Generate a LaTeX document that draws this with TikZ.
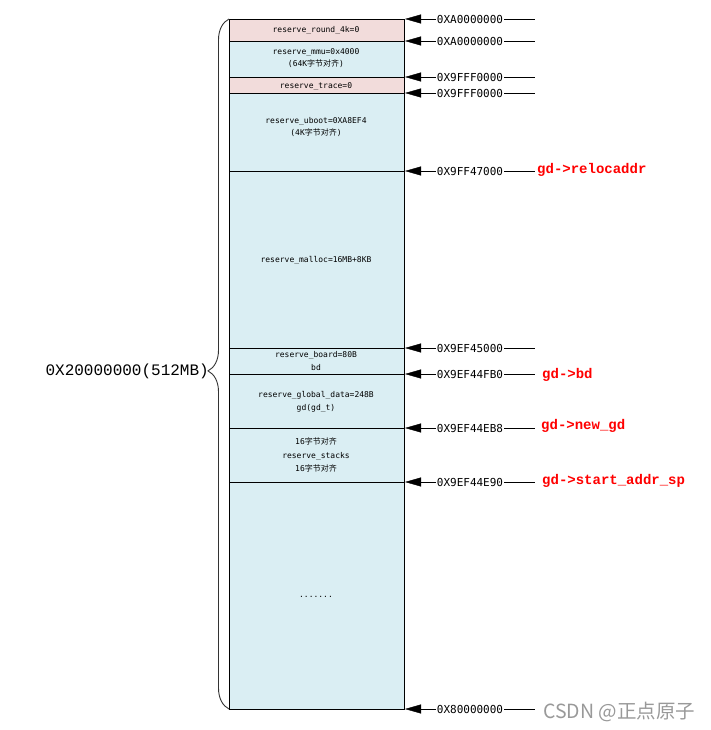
\documentclass[tikz,border=0pt]{standalone}
\usepackage{fontspec}
\setmainfont{DejaVu Sans}
\newfontfamily\cjk{Noto Sans CJK SC}
\newfontfamily\boxfont{DejaVu Sans Mono}
\newfontfamily\codefont{Liberation Mono}
\usetikzlibrary{arrows.meta,decorations.pathreplacing}
\definecolor{rowpink}{HTML}{F2DCDB}
\definecolor{rowblue}{HTML}{DAEEF3}
\tikzset{
  memtext/.style={align=center, font=\boxfont\fontsize{8}{12.5}\selectfont},
  addr/.style={inner xsep=1pt, font=\boxfont\fontsize{11}{13}\selectfont},
  ptr/.style={anchor=west, inner sep=0pt, text=red, font=\codefont\bfseries\fontsize{14}{16}\selectfont}
}
\begin{document}
\begin{tikzpicture}[x=1pt, y=-1pt, >={Triangle[length=16pt,width=9pt]}]
        \useasboundingbox (0,0) rectangle (710,730);

        % Rows of the memory map (top/bottom/fill)
        \foreach \t/\b/\c in {19/41/rowpink, 41/77/rowblue, 77/93/rowpink, 93/171/rowblue,
            171/348/rowblue, 348/374/rowblue, 374/428/rowblue, 428/482/rowblue, 482/709/rowblue}
          \draw[fill=\c, line width=0.8pt] (229,\t) rectangle (404,\b);

        % Texts inside the rows
        \node[memtext] (round) at (316,30) {reserve\_round\_4k=0};
        \node[memtext] (mmu) at (316,58) {reserve\_mmu=0x4000\\(64K{\cjk 字节对齐})};
        \node[memtext] (trace) at (316,86) {reserve\_trace=0};
        \node[memtext] (uboot) at (316,127) {reserve\_uboot=0XA8EF4\\(4K{\cjk 字节对齐})};
        \node[memtext] (malloc) at (316,260) {reserve\_malloc=16MB+8KB};
        \node[memtext] (board) at (316,361) {reserve\_board=80B\\bd};
        \node[memtext] (global) at (316,402) {reserve\_global\_data=248B\\gd(gd\_t)};
        \node[memtext, font=\boxfont\fontsize{8}{13.5}\selectfont] (stacks) at (316,455)
          {16{\cjk 字节对齐}\\reserve\_stacks\\16{\cjk 字节对齐}};
        \node[memtext] (dots) at (316,597) {.......};

        % Addresses at the row boundaries, arrows point at the box
        \foreach \y/\a [count=\i] in {19/0XA0000000, 41/0XA0000000, 77/0X9FFF0000, 93/0X9FFF0000,
            171/0X9FF47000, 348/0X9EF45000, 374/0X9EF44FB0, 428/0X9EF44EB8, 482/0X9EF44E90,
            709/0X80000000} {
          \coordinate (b\i) at (405,\y);
          \coordinate (e\i) at (535,\y);
          \node[addr] (a\i) at (470,\y) {\a};
          \draw[->] (a\i) -- (b\i);
          \draw (a\i) -- (e\i);
        }

        % Pointers kept in gd
        \node[ptr] (reloc) at (537,170) {gd->relocaddr};
        \node[ptr] (bd) at (542,375) {gd->bd};
        \node[ptr] (newgd) at (541,426) {gd->new\_gd};
        \node[ptr] (sp) at (542,481) {gd->start\_addr\_sp};

        % Brace over the whole region
        \draw[line width=0.9pt, black!80, decorate, decoration={brace, amplitude=21pt, aspect=0.49}]
          (229,709) -- (229,19);
        \node[anchor=east, inner sep=0pt, font=\codefont\fontsize{16}{18}\selectfont] (total)
          at (209,371) {0X20000000(512MB)};

        \node[anchor=west, inner sep=0pt, text=black!40, font=\cjk\fontsize{19.5}{21}\selectfont] (mark)
          at (543,712) {CSDN @正点原子};
\end{tikzpicture}
\end{document}
